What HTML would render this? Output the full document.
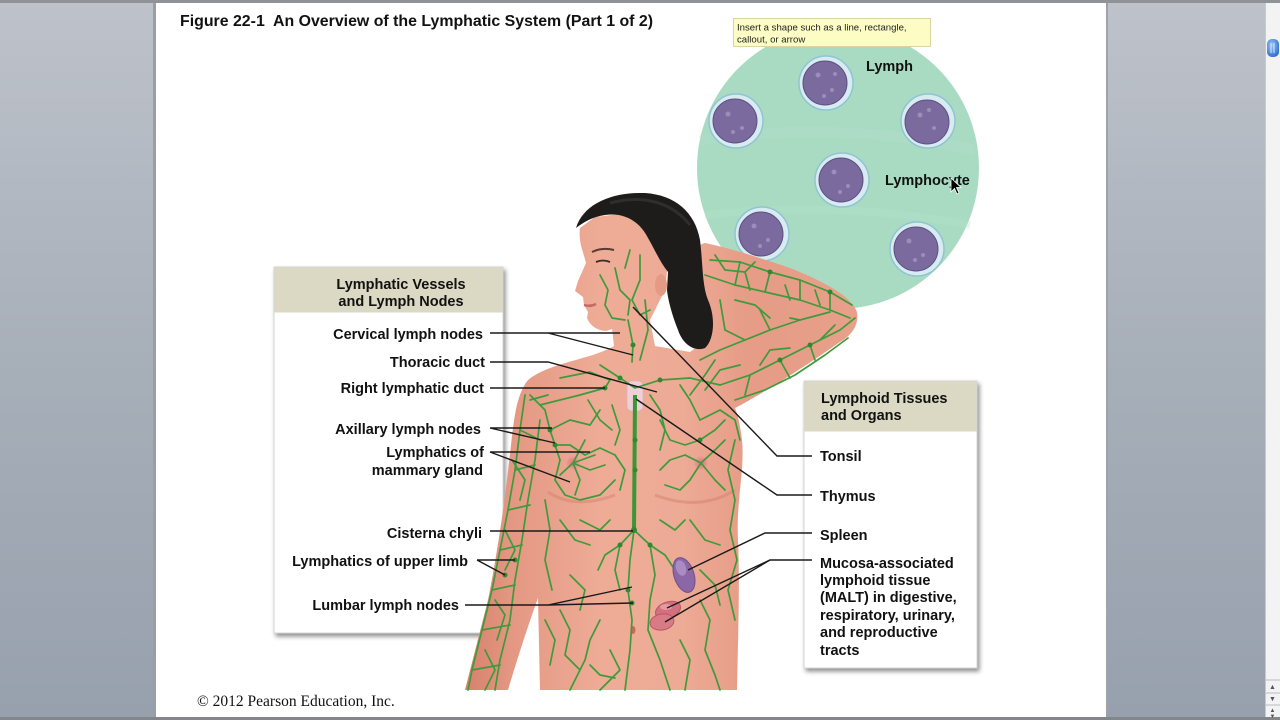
<!DOCTYPE html>
<html><head><meta charset="utf-8"><style>
html,body{margin:0;padding:0;width:1280px;height:720px;overflow:hidden;background:#fff}
svg{display:block}
</style></head><body>
<svg width="1280" height="720" viewBox="0 0 1280 720" xmlns="http://www.w3.org/2000/svg" font-family="'Liberation Sans', Arial, sans-serif">
<defs>
<linearGradient id="bgL" x1="0" y1="0" x2="0" y2="1"><stop offset="0" stop-color="#bec2ca"/><stop offset="0.5" stop-color="#a7afb9"/><stop offset="1" stop-color="#97a0ad"/></linearGradient>
<linearGradient id="skin" x1="465" y1="0" x2="860" y2="0" gradientUnits="userSpaceOnUse">
<stop offset="0" stop-color="#d6806c"/><stop offset="0.12" stop-color="#e49883"/><stop offset="0.35" stop-color="#eeac97"/><stop offset="0.55" stop-color="#edaa95"/><stop offset="0.72" stop-color="#e69c86"/><stop offset="1" stop-color="#e7a08b"/></linearGradient>
<radialGradient id="nip" cx="0.5" cy="0.5" r="0.5"><stop offset="0" stop-color="#e46f78"/><stop offset="0.6" stop-color="#ec9293"/><stop offset="1" stop-color="#f0aa9c" stop-opacity="0"/></radialGradient>
<radialGradient id="knob" cx="0.4" cy="0.35" r="0.7"><stop offset="0" stop-color="#9cc6f5"/><stop offset="1" stop-color="#2c6fcb"/></radialGradient>
<filter id="sh" x="-10%" y="-10%" width="130%" height="130%"><feGaussianBlur in="SourceAlpha" stdDeviation="2.5"/><feOffset dx="2" dy="3"/><feComponentTransfer><feFuncA type="linear" slope="0.45"/></feComponentTransfer><feMerge><feMergeNode/><feMergeNode in="SourceGraphic"/></feMerge></filter>
</defs>

<rect x="0" y="0" width="1280" height="720" fill="url(#bgL)"/>
<rect x="0" y="0" width="1280" height="3" fill="#8f9297"/>
<rect x="0" y="717" width="1280" height="3" fill="#83868b"/>
<rect x="153" y="3" width="3" height="714" fill="#9a9ea5"/>
<rect x="156" y="3" width="950" height="714" fill="#ffffff"/>
<rect x="1106" y="3" width="2" height="714" fill="#9ea3aa"/>
<rect x="1265" y="3" width="15" height="714" fill="#f3f3f3"/>
<rect x="1265" y="3" width="1" height="714" fill="#c9c9c9"/>
<rect x="1267" y="39" width="12" height="18" rx="5" fill="url(#knob)"/>
<line x1="1271" y1="43" x2="1271" y2="53" stroke="#d8e8ff" stroke-width="1"/>
<line x1="1274" y1="43" x2="1274" y2="53" stroke="#d8e8ff" stroke-width="1"/>
<line x1="1266" y1="680" x2="1280" y2="680" stroke="#bbb"/>
<line x1="1266" y1="693" x2="1280" y2="693" stroke="#bbb"/>
<line x1="1266" y1="705" x2="1280" y2="705" stroke="#bbb"/>
<text x="1272.5" y="689" font-size="7" text-anchor="middle" fill="#555">▲</text>
<text x="1272.5" y="701" font-size="7" text-anchor="middle" fill="#555">▼</text>
<text x="1272.5" y="712" font-size="6" text-anchor="middle" fill="#555">▲</text>
<text x="1272.5" y="718" font-size="6" text-anchor="middle" fill="#555">▼</text>

<text x="180" y="26" font-size="15.9" font-weight="bold" fill="#111" xml:space="preserve">Figure 22-1  An Overview of the Lymphatic System (Part 1 of 2)</text>

<circle cx="838" cy="168" r="141" fill="#a9dbc3"/>
<path d="M700,140 Q840,120 975,150" stroke="#b4e0cb" stroke-width="10" fill="none" opacity="0.35"/>
<path d="M705,215 Q840,200 970,225" stroke="#b4e0cb" stroke-width="8" fill="none" opacity="0.3"/>
<g stroke="#92c3d3" stroke-width="1.5" fill="#d6ecf1">
<circle cx="826" cy="83" r="27"/><circle cx="736" cy="121" r="27"/><circle cx="928" cy="121" r="27"/>
<circle cx="842" cy="180" r="27"/><circle cx="762" cy="234" r="27"/><circle cx="917" cy="249" r="27"/>
</g>
<g fill="#7a6a9d" stroke="#5f5085" stroke-width="1">
<circle cx="825" cy="83" r="22"/><circle cx="735" cy="121" r="22"/><circle cx="927" cy="122" r="22"/>
<circle cx="841" cy="180" r="22"/><circle cx="761" cy="234" r="22"/><circle cx="916" cy="249" r="22"/>
</g>
<g fill="#a696c2" opacity="0.8">
<circle cx="818" cy="75" r="2.5"/><circle cx="832" cy="90" r="2"/><circle cx="824" cy="96" r="2"/><circle cx="835" cy="74" r="2"/>
<circle cx="728" cy="114" r="2.5"/><circle cx="742" cy="128" r="2"/><circle cx="733" cy="132" r="2"/>
<circle cx="920" cy="115" r="2.5"/><circle cx="934" cy="128" r="2"/><circle cx="929" cy="110" r="2"/>
<circle cx="834" cy="172" r="2.5"/><circle cx="848" cy="186" r="2"/><circle cx="840" cy="192" r="2"/>
<circle cx="754" cy="226" r="2.5"/><circle cx="768" cy="240" r="2"/><circle cx="760" cy="246" r="2"/>
<circle cx="909" cy="241" r="2.5"/><circle cx="923" cy="255" r="2"/><circle cx="915" cy="260" r="2"/>
</g>
<text x="866" y="71" font-size="14.5" font-weight="bold" fill="#111">Lymph</text>
<text x="885" y="185" font-size="14.5" font-weight="bold" fill="#111">Lymphocyte</text>

<g filter="url(#sh)">
<rect x="274" y="267" width="229" height="366" fill="#ffffff" stroke="#d6d6d6" stroke-width="1"/>
</g>
<rect x="274.5" y="267.5" width="228" height="45" fill="#dbd8c3"/>
<g filter="url(#sh)">
<rect x="804" y="381" width="173" height="287" fill="#ffffff" stroke="#d6d6d6" stroke-width="1"/>
</g>
<rect x="804.5" y="381.5" width="172" height="50" fill="#dbd8c3"/>

<path fill="url(#skin)" d="M580,228 C578,242 584,254 586,263 L578,281 L575,291 L583,297 L584,305 L588,312 L587,318 Q592,330 606,331 L612,329 L614,346 C590,360 550,362 528,380 C516,395 514,420 511,445 C505,500 498,550 488,600 L465,690 L508,690 C520,650 530,620 538,598 L540,690 L737,690 C738,640 740,580 738,540 C736,500 745,470 742,440 C740,425 738,415 735,408 C760,395 800,370 840,342 C852,335 859,325 857,312 C851,295 820,280 790,268 C760,258 730,248 705,243 C695,245 690,258 692,270 C694,282 700,287 704,300 L706,340 L690,352 L655,346 L650,320 L665,290 L668,262 L650,225 L620,214 L595,217 Z"/>
<path d="M548,492 Q575,510 615,495" stroke="#d4826e" stroke-width="3" fill="none" opacity="0.5"/>
<path d="M655,495 Q700,512 735,490" stroke="#d4826e" stroke-width="3" fill="none" opacity="0.5"/>
<circle cx="573" cy="463" r="9" fill="url(#nip)"/>
<circle cx="701" cy="463" r="9" fill="url(#nip)"/>
<ellipse cx="633" cy="630" rx="2.5" ry="4" fill="#c96a5c"/>
<path d="M592,252 Q602,247 614,250" stroke="#5a3a32" stroke-width="2" fill="none"/>
<path d="M596,262 Q603,259 610,262" stroke="#3a2a28" stroke-width="1.8" fill="none"/>
<path d="M584,305 Q590,307 596,304" stroke="#c46a66" stroke-width="2.5" fill="none"/>
<ellipse cx="661" cy="285" rx="6" ry="11" fill="#e49a85"/>

<path fill="#1e1b1b" d="M576,228 C583,205 610,192 645,193 C675,195 695,212 700,240 C703,265 702,285 708,300 C716,318 714,340 705,348 C695,352 683,345 678,330 C672,315 668,300 667,290 L668,272 C660,262 655,250 648,238 C640,222 625,212 605,215 C592,217 584,222 576,228 Z"/>
<path d="M610,203 C640,195 670,200 690,225" stroke="#3b3535" stroke-width="3" fill="none" opacity="0.7"/>

<rect x="627" y="381" width="16" height="30" rx="5" fill="#efd0d8" stroke="#dcb0bd" stroke-width="0.8"/>

<g stroke="#3f9a3c" stroke-width="1.7" fill="none" stroke-linejoin="round" stroke-linecap="round">
<path d="M600,275 L608,290 L605,305 L612,318 L625,320"/>
<path d="M615,268 L620,290 L630,300 L628,315"/>
<path d="M640,255 L640,280 L632,300 L640,315 L650,310"/>
<path d="M628,320 L633,345 L632,362"/>
<path d="M645,300 L648,330 L640,360"/>
<path d="M625,268 L630,250"/>
<path d="M600,365 L620,378 L635,388 L660,380 L690,378 L720,385"/>
<path d="M560,378 L590,372 L610,380 L605,388 L580,395 L560,400 L540,405"/>
<path d="M530,395 L545,410 L550,430 L555,445 L560,460"/>
<path d="M550,430 L570,420 L590,425 L600,410"/>
<path d="M555,445 L570,445 L585,455 L600,448 L615,455"/>
<path d="M560,460 L555,480 L565,495 L580,500 L600,495 L615,480"/>
<path d="M573,463 L590,470 L605,465 M573,463 L560,475 M573,463 L580,480 L575,495 M573,463 L595,455 M573,463 L585,440"/>
<path d="M615,455 L625,470 L620,490"/>
<path d="M701,463 L685,455 L670,460 L660,470 M701,463 L690,480 L680,490 L665,485 M701,463 L715,450 L725,440 M701,463 L715,480 L725,490"/>
<path d="M660,420 L670,440 L685,445 L700,440 L715,430 L725,420"/>
<path d="M650,395 L660,410 L665,430 L660,450"/>
<path d="M680,385 L690,400 L700,420"/>
<path d="M634,530 L620,545 L605,555 L598,570"/>
<path d="M634,530 L650,545 L665,555 L675,570"/>
<path d="M634,530 L630,560 L628,590 L632,620 L630,650 L625,690"/>
<path d="M620,545 L615,570 L620,590"/>
<path d="M650,545 L655,575 L650,600 L648,630 L660,660 L670,690"/>
<path d="M600,620 L590,640 L585,660 L570,690"/>
<path d="M560,610 L570,630 L565,655 L580,670"/>
<path d="M700,600 L710,620 L705,650 L715,675 L720,690"/>
<path d="M610,650 L620,670 L600,690"/>
<path d="M680,640 L690,660 L685,690"/>
<path d="M590,665 L600,675 L615,678"/>
<path d="M525,395 L520,430 L515,470 L508,510 L500,550 L492,590 L482,630 L472,670 L468,690"/>
<path d="M540,420 L535,460 L528,500 L522,540 L515,580 L510,620 L500,660 L495,690"/>
<path d="M520,430 L540,440 M515,470 L535,465 M508,510 L530,505 M500,550 L522,545 M492,590 L515,585 M482,630 L510,625 M472,670 L500,665"/>
<path d="M530,400 L548,395 M512,460 L525,480 L520,500 M505,530 L515,550 L505,570 M495,600 L505,615 L497,640 M485,650 L495,670 L485,690"/>
<path d="M720,385 L750,375 L780,360 L810,345 L840,330 L855,318"/>
<path d="M735,400 L765,390 L795,375 L825,355 L848,338"/>
<path d="M710,260 L740,262 L770,272 L800,280 L830,292 L852,305"/>
<path d="M705,275 L735,285 L765,292 L800,300 L830,310 L850,318"/>
<path d="M750,375 L745,395 M780,360 L790,378 M810,345 L815,360 M740,262 L735,285 M770,272 L765,292 M800,280 L800,300 M830,292 L830,310"/>
<path d="M700,360 L720,350 L745,340 L770,330 L800,320 L830,312"/>
<path d="M720,300 L725,330 L745,340 M760,310 L770,330 M790,318 L800,320"/>
<path d="M690,395 L705,375 L715,360"/>
<path d="M700,420 L720,410 L735,420 L740,440"/>
<path d="M735,440 L728,470 L735,500 L730,530 L737,560 L728,590 L735,620"/>
<path d="M545,500 L550,530 L545,560 L552,590"/>
<path d="M560,520 L575,540 L590,545 M690,520 L705,540 L720,545"/>
<path d="M715,255 L725,270 L745,272 L755,262 M745,272 L750,290 M785,285 L790,300 M815,290 L820,305 M735,300 L755,305 L770,318"/>
<path d="M705,390 L720,370 L740,365 M760,365 L770,350 L790,348 M820,340 L835,325"/>
<path d="M588,400 L600,420 L612,430 M612,405 L620,430 L615,445"/>
<path d="M580,520 L600,530 L610,520 M660,520 L675,530 L685,520"/>
<path d="M570,575 L585,590 L580,610 M700,570 L715,585 L720,605"/>
<path d="M545,620 L555,640 L550,665"/>
</g>
<path d="M635,395 L634,532" stroke="#3a9636" stroke-width="4" fill="none"/>
<g fill="#2f8a2e">
<circle cx="633" cy="345" r="2.5"/><circle cx="620" cy="378" r="2.5"/><circle cx="660" cy="380" r="2.5"/><circle cx="605" cy="388" r="2.5"/>
<circle cx="550" cy="430" r="2.5"/><circle cx="555" cy="445" r="2.5"/><circle cx="634" cy="530" r="3"/><circle cx="628" cy="590" r="2.5"/>
<circle cx="632" cy="603" r="2.5"/><circle cx="515" cy="560" r="2.5"/><circle cx="505" cy="575" r="2.5"/><circle cx="780" cy="360" r="2.5"/>
<circle cx="810" cy="345" r="2.5"/><circle cx="770" cy="272" r="2.5"/><circle cx="830" cy="292" r="2.5"/><circle cx="635" cy="440" r="2.5"/>
<circle cx="635" cy="470" r="2.5"/><circle cx="650" cy="545" r="2.5"/><circle cx="620" cy="545" r="2.5"/><circle cx="700" cy="440" r="2.5"/>
</g>

<ellipse cx="684" cy="575" rx="10" ry="18" transform="rotate(-18 684 575)" fill="#8b67a6" stroke="#6f4f8c" stroke-width="1"/>
<ellipse cx="681" cy="568" rx="5" ry="8" transform="rotate(-18 681 568)" fill="#b79cd0" opacity="0.7"/>
<ellipse cx="668" cy="610" rx="13" ry="8" transform="rotate(-20 668 610)" fill="#d3707d" stroke="#b65868" stroke-width="1"/>
<ellipse cx="662" cy="622" rx="12" ry="8" transform="rotate(-10 662 622)" fill="#d87b87" stroke="#b65868" stroke-width="1"/>
<ellipse cx="666" cy="607" rx="6" ry="3" fill="#eaa5ad" opacity="0.8"/>

<g stroke="#1a1a1a" stroke-width="1.4" fill="none">
<path d="M490,333 L620,333 M548,333 L633,355"/>
<path d="M490,362 L548,362 L657,392"/>
<path d="M490,388 L605,388"/>
<path d="M490,428 L552,428 M490,428 L555,443"/>
<path d="M490,452 L590,452 M490,452 L570,482"/>
<path d="M490,531 L633,531"/>
<path d="M477,560 L515,560 M477,560 L505,575"/>
<path d="M465,605 L548,605 L632,587 M548,605 L633,603"/>
<path d="M812,456 L777,456 L633,307"/>
<path d="M812,495 L777,495 L636,399"/>
<path d="M812,533 L765,533 L688,570"/>
<path d="M812,560 L770,560 L667,608 M770,560 L665,622"/>
</g>

<g font-size="14.5" font-weight="bold" fill="#111">
<text x="401" y="289" text-anchor="middle">Lymphatic Vessels</text>
<text x="401" y="306" text-anchor="middle">and Lymph Nodes</text>
<text x="483" y="339" text-anchor="end">Cervical lymph nodes</text>
<text x="485" y="367" text-anchor="end">Thoracic duct</text>
<text x="484" y="393" text-anchor="end">Right lymphatic duct</text>
<text x="481" y="434" text-anchor="end">Axillary lymph nodes</text>
<text x="484" y="457" text-anchor="end">Lymphatics of</text>
<text x="483" y="475" text-anchor="end">mammary gland</text>
<text x="482" y="538" text-anchor="end">Cisterna chyli</text>
<text x="468" y="566" text-anchor="end">Lymphatics of upper limb</text>
<text x="459" y="610" text-anchor="end">Lumbar lymph nodes</text>
</g>
<g font-size="14.5" font-weight="bold" fill="#111">
<text x="821" y="403">Lymphoid Tissues</text>
<text x="821" y="420">and Organs</text>
<text x="820" y="461">Tonsil</text>
<text x="820" y="501">Thymus</text>
<text x="820" y="540">Spleen</text>
<text x="820" y="568">Mucosa-associated</text>
<text x="820" y="585">lymphoid tissue</text>
<text x="820" y="602">(MALT) in digestive,</text>
<text x="820" y="620">respiratory, urinary,</text>
<text x="820" y="637">and reproductive</text>
<text x="820" y="655">tracts</text>
</g>

<text x="197" y="706" font-family="'Liberation Serif', 'Times New Roman', serif" font-size="15.5" fill="#111">© 2012 Pearson Education, Inc.</text>

<rect x="733.5" y="18.5" width="197" height="28" fill="#fdfcc4" stroke="#d9d6a0" stroke-width="1"/>
<text x="737" y="30.5" font-size="9.6" fill="#222">Insert a shape such as a line, rectangle,</text>
<text x="737" y="42.5" font-size="9.6" fill="#222">callout, or arrow</text>

<path d="M951,178 L951,192 L954.5,188.5 L957,194 L959,193 L956.5,187.5 L961,187.5 Z" fill="#000" stroke="#fff" stroke-width="0.8"/>
</svg>
</body></html>
